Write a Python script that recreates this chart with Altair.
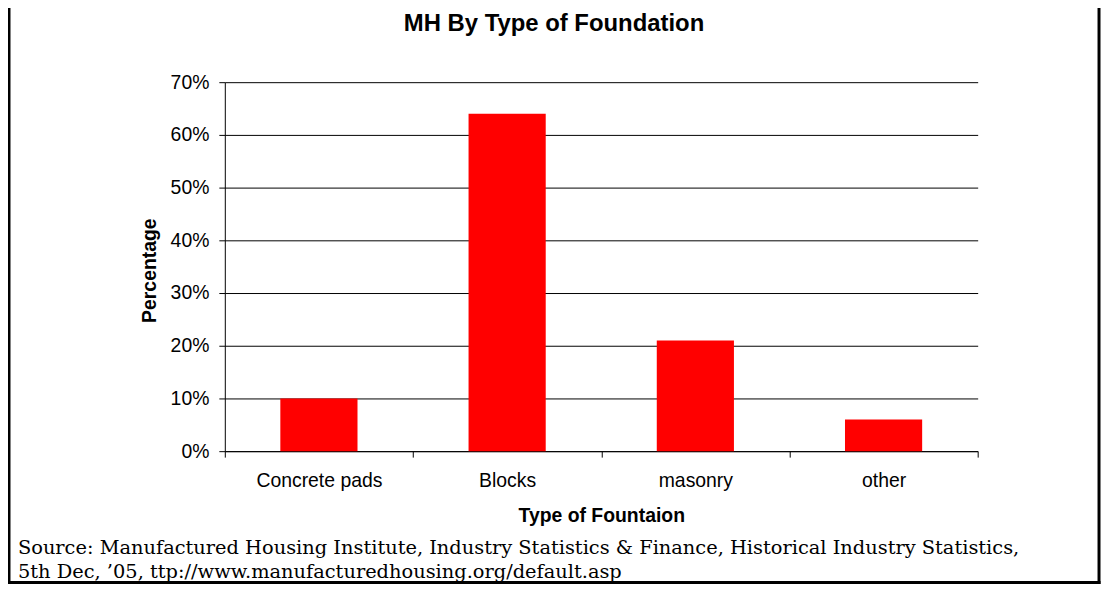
import altair as alt
import pandas as pd

# ---- data ----
categories = ["Concrete pads", "Blocks", "masonry", "other"]
shares = [0.10, 0.64, 0.21, 0.06]
y_ticks = [0, 0.1, 0.2, 0.3, 0.4, 0.5, 0.6, 0.7]
title_text = "MH By Type of Foundation"
x_title = "Type of Fountaion"
y_title = "Percentage"
source_line1 = "Source: Manufactured Housing Institute, Industry Statistics & Finance, Historical Industry Statistics,"
source_line2 = "5th Dec, \u201905, ttp://www.manufacturedhousing.org/default.asp"

SANS = "Liberation Sans"
SERIF = "DejaVu Serif"
W, H = 757, 371

df = pd.DataFrame({"Type": categories, "Share": shares})
one = pd.DataFrame({"k": [0]})

bars = alt.Chart(df).mark_bar(color="#FF0000", width=alt.RelativeBandSize(0.41)).encode(
    x=alt.X(
        "Type:N",
        sort=categories,
        scale=alt.Scale(paddingInner=0, paddingOuter=0),
        axis=alt.Axis(
            title=x_title,
            labelAngle=0,
            tickBand="extent",
            grid=False,
            domainColor="black",
            tickColor="black",
            tickSize=6,
            labelPadding=15,
            labelFont=SANS,
            labelFontSize=19.5,
            labelColor="black",
            titleFont=SANS,
            titleFontSize=19.5,
            titleFontWeight="bold",
            titleColor="black",
            titleBaseline="alphabetic",
            titleY=71,
        ),
    ),
    y=alt.Y(
        "Share:Q",
        scale=alt.Scale(domain=[0, 0.7], nice=False),
        axis=alt.Axis(
            values=y_ticks,
            format=".0%",
            title=y_title,
            grid=True,
            gridColor="black",
            gridOpacity=1,
            domainColor="black",
            tickColor="black",
            tickSize=6,
            labelPadding=10,
            labelFont=SANS,
            labelFontSize=19.5,
            labelColor="black",
            titleFont=SANS,
            titleFontSize=19.5,
            titleFontWeight="bold",
            titleColor="black",
            titleAngle=270,
            titleBaseline="alphabetic",
            titleAlign="center",
            titleX=-70,
            titleY=189,
        ),
    ),
)

title_layer = alt.Chart(pd.DataFrame({"t": [title_text]})).mark_text(
    font=SANS, fontSize=24, fontWeight="bold", align="center", baseline="alphabetic", color="black"
).encode(text="t:N", x=alt.value(331), y=alt.value(-51))

src1 = alt.Chart(pd.DataFrame({"t": [source_line1]})).mark_text(
    font=SERIF, fontSize=19.5, align="left", baseline="alphabetic", color="black"
).encode(text="t:N", x=alt.value(-208), y=alt.value(474))

src2 = alt.Chart(pd.DataFrame({"t": [source_line2]})).mark_text(
    font=SERIF, fontSize=19.5, align="left", baseline="alphabetic", color="black"
).encode(text="t:N", x=alt.value(-208), y=alt.value(499))

frame_left = alt.Chart(one).mark_rule(color="black", strokeWidth=3).encode(
    x=alt.value(-217), y=alt.value(-90), y2=alt.value(504.5)
)
frame_right = alt.Chart(one).mark_rule(color="black", strokeWidth=3).encode(
    x=alt.value(879), y=alt.value(-90), y2=alt.value(504.5)
)
frame_bottom = alt.Chart(one).mark_rule(color="black", strokeWidth=3).encode(
    x=alt.value(-218.5), x2=alt.value(880.5), y=alt.value(503)
)

chart = alt.layer(
    frame_left, frame_right, frame_bottom, bars, title_layer, src1, src2
).properties(
    width=W,
    height=H,
    autosize=alt.AutoSizeParams(type="none"),
    padding={"left": 218, "top": 73, "right": 125, "bottom": 136},
    background="white",
).configure_view(stroke=None)

chart.save("out.html", embed_options={"renderer": "svg", "actions": False})
